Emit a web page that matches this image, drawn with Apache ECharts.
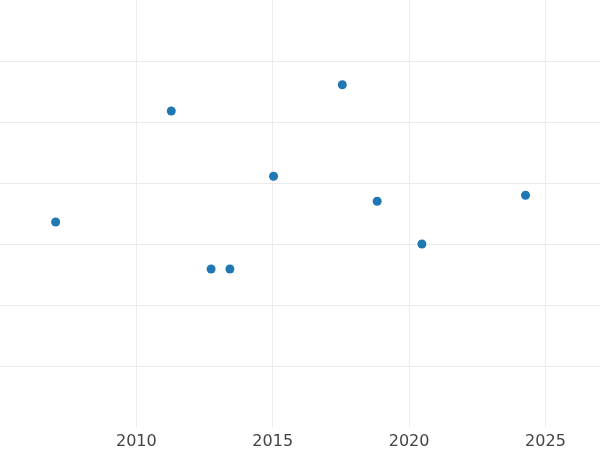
<!DOCTYPE html>
<html>
<head>
    <meta charset="utf-8">
    <script src="https://cdn.jsdelivr.net/npm/echarts@6/dist/echarts.min.js"></script>
    <style>
        html, body { margin: 0; padding: 0; background: #fff; }
    </style>
</head>
<body>
    <div id="main" style="width:600px;height:450px;"></div>
    <script>
        // data
        var years = [2007.04, 2011.28, 2012.74, 2013.43, 2015.03, 2017.55, 2018.83, 2020.47, 2024.27];
        var values = [3.36, 5.18, 2.59, 2.59, 4.11, 5.61, 3.70, 3.00, 3.80];

        var chart = echarts.init(document.getElementById('main'));
        chart.setOption({
            animation: false,
            grid: { left: 0, right: 0, top: 0, bottom: 23 },
            xAxis: {
                type: 'value',
                min: 2005, max: 2027, interval: 5,
                axisLine: { show: false },
                axisTick: { show: false },
                axisLabel: {
                    color: '#444', fontSize: 16, margin: 7,
                    fontFamily: 'DejaVu Sans',
                    showMinLabel: false, showMaxLabel: false,
                    formatter: function (v) { return v % 5 === 0 && v > 2005 ? String(v) : ''; }
                },
                splitLine: { showMinLine: false, showMaxLine: false, lineStyle: { color: '#ebebeb', width: 1 } }
            },
            yAxis: {
                type: 'value',
                min: 0, max: 7, interval: 1,
                axisLine: { show: false },
                axisTick: { show: false },
                axisLabel: { show: false },
                splitLine: { showMinLine: false, showMaxLine: false, lineStyle: { color: '#ebebeb', width: 1 } }
            },
            series: [{
                type: 'scatter',
                symbolSize: 9,
                itemStyle: { color: '#1f77b4', opacity: 1 },
                data: years.map(function (y, i) { return [y, values[i]]; })
            }]
        });
    </script>
</body>
</html>
